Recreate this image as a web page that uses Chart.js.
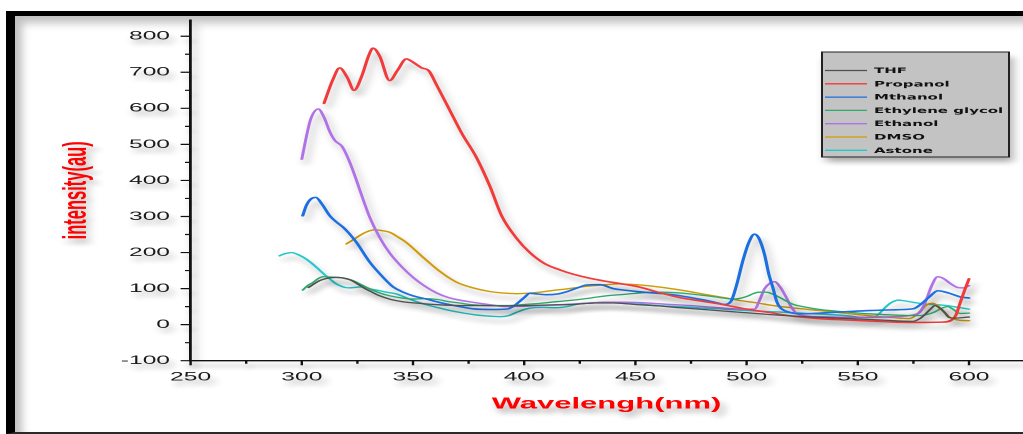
<!DOCTYPE html>
<html>
<head>
<meta charset="utf-8">
<title>Emission spectra</title>
<script src="https://cdn.jsdelivr.net/npm/chart.js@4.4.1/dist/chart.umd.min.js"></script>
<style>
  html, body { margin: 0; padding: 0; background: #fff; overflow: hidden; }
  #stage { position: relative; width: 1023px; height: 434px; overflow: hidden; background: #fff; }
  /* the plot is laid out at half width and stretched sideways */
  #plot { position: absolute; left: 0; top: 0; width: 512px; height: 434px; transform: scaleX(2); transform-origin: 0 0; }
  #frame {
    position: absolute; left: 6px; top: 11px; width: 1040px; height: 423px; box-sizing: border-box;
    border-left: 9px solid #000; border-top: 5px solid #000; border-bottom: 2px solid #2a2a2a;
    box-shadow: inset 7px 7px 9px rgba(0,0,0,0.25); pointer-events: none;
  }
</style>
</head>
<body>
<div id="stage">
  <div id="plot"><canvas id="spectra"></canvas></div>
  <div id="frame"></div>
</div>
<script>
const FONT = "'Liberation Sans', Arial, Helvetica, sans-serif";

// wavelength (nm) / intensity (au) per solvent
const thfNm  = [303, 306, 308, 311, 315, 318, 321.6, 325, 327.6, 331, 335, 340, 345, 353, 362, 371, 380, 392, 400, 407, 415, 422, 432, 440, 450, 460, 470, 485, 500, 515, 530, 545, 560, 574.7, 577.7, 580, 583, 584.7, 587, 589, 591, 593, 600];
const thfInt = [103, 115, 122, 128, 131, 130, 125, 113, 103, 92, 80, 70, 64, 59, 55, 53, 53, 52, 53, 54, 55, 56, 60, 60, 56, 52, 47, 40, 33, 26, 21, 17, 13, 9, 16, 27, 45, 53, 45, 34, 20, 18, 21];

const propanolNm  = [310, 314, 317, 320.5, 323.5, 327, 330, 332, 335, 339.5, 343, 347, 350, 354, 357, 360.6, 366.5, 372, 378.5, 384.5, 390, 396.5, 402.5, 409, 416, 422, 430, 437, 445, 452, 460, 470, 480, 490, 500, 510, 520, 530, 545, 560, 575, 588, 592, 594, 596, 598, 600];
const propanolInt = [614, 680, 712, 685, 650, 690, 745, 767, 745, 677, 705, 737, 728, 712, 705, 665, 595, 530, 464, 385, 300, 240, 200, 170, 152, 140, 128, 120, 112, 104, 90, 75, 65, 55, 43, 34, 24, 18, 13, 9, 6, 7, 12, 25, 60, 95, 127];

const methanolNm  = [300.4, 302, 304, 306.3, 309, 312.6, 315.5, 318.6, 321, 324.6, 330.6, 336.6, 341, 345.6, 350, 356, 363, 371, 377, 385, 392, 395, 396.5, 400, 402.5, 406, 410, 415, 419, 424, 428, 434, 440, 446, 452, 460, 467, 475, 482, 487, 490, 493, 495.5, 498.3, 501, 503.5, 505.5, 508, 510, 511.8, 513.5, 515, 519.4, 525, 532.7, 545, 555, 565, 575, 578, 582, 586, 589, 592.2, 596, 600];
const methanolInt = [302, 330, 348, 353, 335, 302, 285, 270, 255, 228, 173, 131, 105, 90, 80, 71, 60, 50, 44, 42, 43, 50, 57, 75, 87, 85, 83, 85, 91, 102, 110, 111, 100, 95, 91, 87, 83, 75, 67, 60, 56, 65, 110, 177, 228, 251, 240, 196, 140, 103, 65, 48, 34, 30, 32, 36, 39, 41, 44, 55, 76, 94, 91, 85, 77, 74];

const glycolNm  = [300.4, 303, 305, 307.5, 309.6, 313, 316.4, 320, 323, 327, 330.6, 335, 339.6, 345, 350, 355, 360.6, 366, 371, 377, 385, 392, 400, 407, 415, 422, 430, 437, 445, 452, 460, 467, 475, 482, 488, 493.8, 497, 500, 503, 505.5, 509, 512, 515, 518, 521, 527, 533, 545, 555, 565, 577, 581, 584.5, 587.5, 590.4, 593, 596, 600];
const glycolInt = [96, 110, 117, 128, 133, 132, 131, 127, 122, 110, 99, 88, 80, 74, 71, 72, 70, 64, 60, 55, 53, 53, 56, 59, 64, 68, 74, 80, 84, 88, 90, 89, 85, 80, 75, 71, 73, 78, 86, 90, 90, 84, 75, 65, 56, 48, 42, 35, 30, 27, 25, 28, 35, 45, 50, 42, 31, 32];

const ethanolNm  = [300, 302, 304, 307.4, 310, 312.6, 315, 318, 321.6, 324.6, 326, 330.6, 335, 339.6, 345, 350, 355, 360.6, 366, 371, 377, 385, 392, 400, 407, 415, 422, 430, 437, 445, 452, 463, 474, 485, 497, 503.5, 506, 508, 510.5, 512.7, 515, 517.8, 520, 522.3, 527, 533, 545, 555, 565, 575, 578, 580.7, 583, 585.9, 588.5, 591.4, 595, 597.5, 600];
const ethanolInt = [459, 520, 570, 598, 575, 535, 510, 495, 450, 400, 375, 297, 242, 198, 160, 131, 108, 88, 75, 68, 62, 55, 50, 51, 53, 55, 57, 60, 62, 62, 61, 57, 53, 48, 43, 43, 70, 99, 115, 119, 105, 76, 50, 32, 24, 22, 20, 20, 22, 27, 35, 67, 105, 133, 128, 115, 103, 102, 108];

const dmsoNm  = [320, 323, 326, 329, 332.8, 336, 339.6, 343, 347, 354.5, 362, 369.5, 377, 384.5, 390, 396.5, 401, 407, 413, 419, 425, 431, 437, 443, 452, 460, 467, 475, 482, 490, 497, 505, 512, 520, 533, 545, 555, 565, 573, 576, 578.5, 581, 583.7, 586, 589, 591, 593, 596, 600];
const dmsoInt = [224, 235, 247, 257, 263, 261, 256, 244, 228, 187, 148, 118, 102, 92, 88, 86, 87, 90, 95, 99, 104, 108, 111, 113, 110, 105, 99, 91, 83, 75, 67, 60, 53, 47, 39, 31, 25, 20, 17, 25, 40, 55, 59, 52, 34, 22, 16, 12, 11];

const acetoneNm  = [290, 292, 295.4, 298, 300.6, 303.5, 306.6, 310, 312.6, 315, 317.1, 319.5, 321.6, 325, 327.6, 331, 335.1, 338, 342.6, 346, 350, 355, 360.6, 366, 371, 377, 383, 389, 393, 396.5, 400, 404, 409, 414.5, 419, 425, 429.4, 437, 445, 452, 460, 470, 480, 490, 500, 515, 530, 545, 552, 556.7, 559.5, 562.7, 565, 568.3, 571, 574.7, 578, 582, 586, 590, 595, 600];
const acetoneInt = [191, 196, 200, 195, 187, 175, 159, 140, 127, 115, 108, 103, 102, 104, 105, 99, 94, 90, 85, 77, 67, 57, 48, 40, 34, 28, 24, 22, 25, 34, 42, 47, 48, 47, 50, 58, 60, 62, 59, 57, 53, 50, 46, 43, 39, 35, 30, 25, 20, 20, 30, 50, 61, 68, 66, 62, 59, 56, 55, 53, 48, 43];

const solventLabels = ['THF', 'Propanol', 'Mthanol', 'Ethylene glycol', 'Ethanol', 'DMSO', 'Astone'];
const solventNm  = [thfNm, propanolNm, methanolNm, glycolNm, ethanolNm, dmsoNm, acetoneNm];
const solventInt = [thfInt, propanolInt, methanolInt, glycolInt, ethanolInt, dmsoInt, acetoneInt];

const lineColors = ['#505050', '#f23a3a', '#1b6fe0', '#2faa6e', '#b072e6', '#d19b08', '#22c8cc'];
const lineWidths = [1.3, 1.6, 1.6, 1.3, 1.5, 1.4, 1.4];

const datasets = solventLabels.map((label, i) => ({
  label,
  data: solventNm[i].map((nm, j) => ({ x: nm, y: solventInt[i][j] })),
  borderColor: lineColors[i],
  backgroundColor: lineColors[i],
  borderWidth: lineWidths[i],
  pointRadius: 0,
  fill: false,
  cubicInterpolationMode: 'monotone',
  borderCapStyle: 'round',
  borderJoinStyle: 'round'
}));

// soft drop shadow under everything, plus minor/major tick marks and the boxed legend
const decor = {
  id: 'decor',
  beforeDraw(chart) {
    const ctx = chart.ctx;
    ctx.shadowColor = 'rgba(0, 0, 0, 0.32)';
    ctx.shadowBlur = 10;
    ctx.shadowOffsetX = 4;
    ctx.shadowOffsetY = 10;
  },
  afterDraw(chart) {
    const { ctx, scales: { x, y } } = chart;

    ctx.save();
    ctx.strokeStyle = '#111';
    ctx.lineWidth = 1.2;
    ctx.beginPath();
    y.ticks.forEach(t => {
      const py = y.getPixelForValue(t.value);
      const len = t.value % 100 === 0 ? 5 : 2.8;
      ctx.moveTo(y.right - len, py);
      ctx.lineTo(y.right, py);
    });
    x.ticks.forEach(t => {
      const px = x.getPixelForValue(t.value);
      const len = t.value % 50 === 0 ? 4.5 : 3;
      ctx.moveTo(px, x.top);
      ctx.lineTo(px, x.top + len);
    });
    ctx.stroke();
    ctx.restore();

    // legend box
    const bx = 411, by = 52, bw = 93.5, bh = 105;
    ctx.save();
    ctx.fillStyle = '#c3c3c3';
    ctx.fillRect(bx, by, bw, bh);
    ctx.shadowColor = 'rgba(0,0,0,0)';
    ctx.strokeStyle = '#222';
    ctx.lineWidth = 1;
    ctx.strokeRect(bx, by, bw, bh);
    ctx.font = "bold 7.5px 'DejaVu Sans', sans-serif";
    ctx.textBaseline = 'middle';
    ctx.textAlign = 'left';
    chart.data.datasets.forEach((ds, i) => {
      const ry = 70.5 + i * 13.3;
      ctx.strokeStyle = ds.borderColor;
      ctx.lineWidth = 1.3;
      ctx.beginPath();
      ctx.moveTo(412.5, ry);
      ctx.lineTo(433.5, ry);
      ctx.stroke();
      ctx.fillStyle = '#111';
      ctx.fillText(ds.label, 437, ry + 0.5);
    });
    ctx.restore();

    ctx.shadowColor = 'rgba(0,0,0,0)';
    ctx.shadowBlur = 0;
    ctx.shadowOffsetX = 0;
    ctx.shadowOffsetY = 0;
  }
};

new Chart(document.getElementById('spectra'), {
  type: 'line',
  data: { datasets },
  options: {
    responsive: true,
    maintainAspectRatio: false,
    devicePixelRatio: 2,
    animation: false,
    layout: { padding: { top: 20, left: 0, right: 0, bottom: 0 } },
    plugins: {
      legend: { display: false },
      tooltip: { enabled: false }
    },
    scales: {
      x: {
        type: 'linear',
        min: 250,
        max: 624,
        afterFit(scale) { scale.height = 73.3; },
        grid: { display: false, drawTicks: false },
        border: { display: true, color: '#111', width: 1.4 },
        ticks: {
          stepSize: 25,
          includeBounds: false,
          autoSkip: false,
          maxRotation: 0,
          padding: 9,
          color: '#1a1a1a',
          font: { family: FONT, size: 12.3 },
          callback: v => (v % 50 === 0 ? String(v) : '')
        },
        title: {
          display: true,
          text: 'Wavelengh(nm)',
          color: '#ff0000',
          font: { family: FONT, size: 15.5, weight: 'bold' },
          padding: { top: 0, bottom: 20.7 }
        }
      },
      y: {
        type: 'linear',
        min: -100,
        max: 845,
        afterFit(scale) { scale.width = 95.3; },
        grid: { display: false, drawTicks: false },
        border: { display: true, color: '#111', width: 1.4 },
        ticks: {
          stepSize: 50,
          includeBounds: false,
          autoSkip: false,
          padding: 10.3,
          color: '#1a1a1a',
          font: { family: FONT, size: 12.3 },
          callback: v => (v % 100 === 0 ? String(v) : '')
        },
        title: {
          display: true,
          text: 'intensity(au)',
          color: '#ff0000',
          font: { family: FONT, size: 16.5, weight: 'bold' },
          padding: { top: 28.6, bottom: 0 }
        }
      }
    }
  },
  plugins: [decor]
});
</script>
</body>
</html>
